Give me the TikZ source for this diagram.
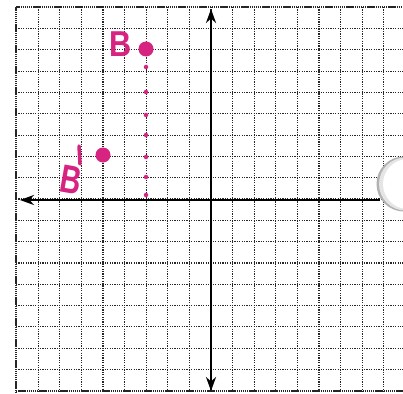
\documentclass[tikz,border=0pt]{standalone}
\usepackage{fontspec}
\setmainfont{Liberation Sans}
\usetikzlibrary{arrows.meta,shadings}
\definecolor{ink}{RGB}{214,36,128}
\begin{document}
\begin{tikzpicture}[x=1pt,y=-1pt,
  gridline/.style={black!85,line width=1.2pt,dash pattern=on 1.2pt off 1.2pt},
  border/.style={black!85,line width=1.6pt,dash pattern=on 1.4pt off 0.7pt},
  axisline/.style={black,line width=2.8pt,-{Stealth[length=14pt,width=10pt]}},
  pt/.style={circle,fill=ink,inner sep=0pt,minimum size=15pt},
  lab/.style={text=ink,font=\fontsize{36}{36}\selectfont\bfseries,inner sep=0pt},
  inkdot/.style={circle,fill=ink,inner sep=0pt,minimum size=4.5pt}]
\useasboundingbox (0,0) rectangle (403,393);
\fill[white] (0,0) rectangle (403,393);
% grid
\foreach \k in {-8,...,8}
  \draw[gridline] ({211+21.6*\k},7) -- ({211+21.6*\k},393);
\foreach \j in {-8,...,8}
  \draw[gridline] (16,{199+21.3*\j}) -- (403,{199+21.3*\j});
% border of the sheet
\draw[border] (16,393) -- (16,7) -- (403,7);
\draw[border] (16,391) -- (403,391);
% axes
\coordinate (ytop) at (211,9);
\coordinate (ybot) at (211,391);
\coordinate (xleft) at (20,200);
\coordinate (xright) at (380,200);
\coordinate (o) at (211,200);
\draw[axisline] (o) -- (ytop);
\draw[axisline] (o) -- (ybot);
\draw[axisline] (xright) -- (xleft);
% hole punch
\fill[black!30] (404,184) circle (27.5);
\fill[black!10] (405.5,184) circle (26.5);
\fill[white] (408,184) circle (25);
% points
\node[pt] (B) at (146,49) {};
\node[pt] (Bp) at (103,155) {};
\node[lab,xscale=0.85] (Blab) at (121,44) {B};
\node[lab,rotate=-10,xscale=0.8,yscale=1.1] (Bplab) at (71,180) {B};
\draw[ink,line width=3.5pt,line cap=round] (79,146) -- (80,164);
% dotted projection
\foreach \y in {67,92,115,135,157,177,195}
  \node[inkdot] at (146,\y) {};
\end{tikzpicture}
\end{document}
